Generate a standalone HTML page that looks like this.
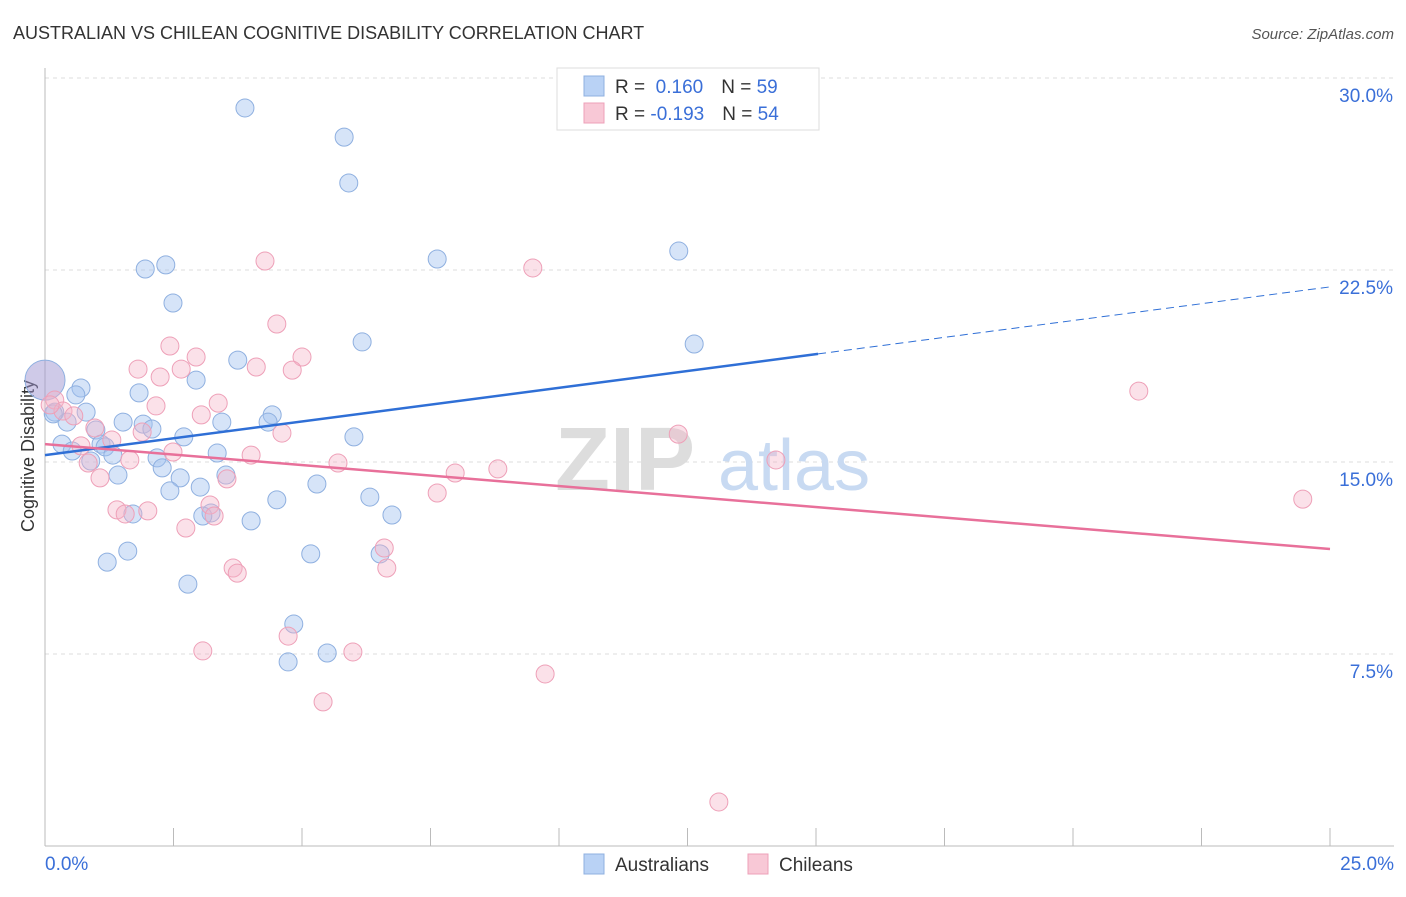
<!DOCTYPE html>
<html><head><meta charset="utf-8"><style>
body{margin:0;background:#fff;font-family:"Liberation Sans",sans-serif;}
svg text{font-family:"Liberation Sans",sans-serif;}
</style></head><body>
<svg id="chart" width="1406" height="892" xmlns="http://www.w3.org/2000/svg">
<text x="13" y="39" font-size="18" fill="#333">AUSTRALIAN VS CHILEAN COGNITIVE DISABILITY CORRELATION CHART</text>
<text x="1394" y="39" font-size="15" fill="#555" font-style="italic" text-anchor="end">Source: ZipAtlas.com</text>
<g id="grid"></g>
<g><text x="555" y="490" font-size="90" font-family="Liberation Serif" fill="#ddd" font-weight="bold">ZIP</text><text x="718" y="490" font-size="72" fill="#c8daf2">atlas</text></g>
<line x1="45" y1="68" x2="45" y2="846" stroke="#bbb"/>
<line x1="45" y1="846" x2="1394" y2="846" stroke="#bbb"/>
<g id="xticks"></g>
<g id="yticks"></g>
<text x="45" y="870" font-size="19" fill="#3a6fd8">0.0%</text>
<text x="1394" y="870" font-size="19" fill="#3a6fd8" text-anchor="end">25.0%</text>
<text transform="translate(34,456) rotate(-90)" font-size="18" fill="#333" text-anchor="middle">Cognitive Disability</text>
<g id="pts"></g>
<g id="lines"></g>
<g>
<rect x="557" y="68" width="262" height="62" fill="#fff" stroke="#ddd"/>
<rect x="584" y="76" width="20" height="20" fill="#b9d2f5" stroke="#8fb0e0"/>
<rect x="584" y="103" width="20" height="20" fill="#f8c8d6" stroke="#eea0b8"/>
<text x="615" y="93" font-size="19" fill="#333">R = <tspan fill="#3a6fd8">&#160;0.160</tspan><tspan dx="18">N = </tspan><tspan fill="#3a6fd8">59</tspan></text>
<text x="615" y="120" font-size="19" fill="#333">R = <tspan fill="#3a6fd8">-0.193</tspan><tspan dx="18">N = </tspan><tspan fill="#3a6fd8">54</tspan></text>
</g>
<g>
<rect x="584" y="854" width="20" height="20" fill="#b9d2f5" stroke="#8fb0e0"/>
<text x="615" y="871" font-size="19" fill="#333">Australians</text>
<rect x="748" y="854" width="20" height="20" fill="#f8c8d6" stroke="#eea0b8"/>
<text x="779" y="871" font-size="19" fill="#333">Chileans</text>
</g>
</svg>
<script>
const yTicks=[7.5,15,22.5,30];
const xTickVals=[0,2.5,5,7.5,10,12.5,15,17.5,20,22.5,25];
const blueX=[3.89,5.82,5.91,7.63,12.33,1.95,2.35,2.49,6.17,12.63,3.75,2.94,0.70,0.60,1.83,0.19,0.80,0.43,1.52,1.91,2.08,4.42,4.34,3.44,0.99,2.70,6.01,0.33,1.09,0.53,1.17,1.32,2.18,3.35,0.89,2.28,2.63,1.42,3.52,5.29,2.43,3.02,6.32,4.51,3.23,3.07,1.71,4.01,6.75,1.61,5.17,6.52,1.21,2.78,4.84,5.49,4.73,0.16,0];
const blueY=[28.83,27.69,25.90,22.93,23.24,22.54,22.70,21.21,19.69,19.61,18.98,18.20,17.89,17.62,17.70,16.95,16.95,16.56,16.56,16.48,16.29,16.84,16.56,16.56,16.25,15.98,15.98,15.70,15.70,15.43,15.59,15.27,15.16,15.35,15.04,14.77,14.38,14.49,14.49,14.14,13.87,14.02,13.63,13.52,13.01,12.89,12.97,12.70,12.93,11.52,11.41,11.41,11.09,10.23,8.67,7.54,7.19,16.88,18.2];
const pinkX=[4.28,9.49,4.51,2.43,2.94,5.00,1.81,2.65,2.24,4.81,4.11,21.28,3.37,2.16,0.19,0.35,0.56,3.04,0.97,1.30,1.89,4.61,12.32,0.70,2.49,4.01,1.65,0.84,5.70,7.98,8.81,14.22,1.07,3.54,7.63,24.47,1.40,1.56,2.00,3.21,2.74,6.60,3.66,3.74,6.65,4.73,3.07,5.99,9.73,5.41,13.11,3.29,0.10];
const pinkY=[22.85,22.58,20.39,19.53,19.10,19.10,18.63,18.63,18.32,18.59,18.71,17.77,17.30,17.19,17.42,16.99,16.80,16.84,16.33,15.86,16.17,16.13,16.09,15.63,15.39,15.27,15.08,14.96,14.96,14.57,14.73,15.08,14.38,14.34,13.79,13.55,13.13,12.97,13.09,13.32,12.42,11.64,10.86,10.66,10.86,8.20,7.62,7.58,6.72,5.63,1.72,12.89,17.23];
const blueTrend=[15.27,21.84];
const pinkTrend=[15.70,11.60];
const X=v=>45+v/25*1285, Y=v=>846-v/30*768;
const NS="http://www.w3.org/2000/svg";
function mk(t,a,p){const e=document.createElementNS(NS,t);for(const k in a)e.setAttribute(k,a[k]);p.appendChild(e);return e;}
const grid=document.getElementById('grid'),yt=document.getElementById('yticks'),xt=document.getElementById('xticks');
yTicks.forEach(v=>{
 const l=mk('line',{x1:45,x2:1394,y1:Y(v),y2:Y(v),stroke:'#ddd','stroke-dasharray':'4,4'},grid);
 
 
 const t=mk('text',{x:1393,y:Y(v)+24,'font-size':19,fill:'#3a6fd8','text-anchor':'end'},yt);
 t.textContent=v.toFixed(1)+'%';
 
 
});
xTickVals.forEach(v=>{
 const l=mk('line',{x1:X(v),x2:X(v),y1:828,y2:846,stroke:'#bbb'},xt);
 
 
});
const pts=document.getElementById('pts');
blueX.forEach((x,i)=>{
 const big=(i===blueX.length-1);
 const c=mk('circle',{cx:X(x),cy:Y(blueY[i]),r:big?20:9,fill:big?'rgba(160,150,210,0.5)':'rgba(164,196,240,0.45)',stroke:'#8fb0e0','stroke-width':1},pts);
 
 
});
pinkX.forEach((x,i)=>{
 const c=mk('circle',{cx:X(x),cy:Y(pinkY[i]),r:9,fill:'rgba(245,180,200,0.4)',stroke:'#eea0b8','stroke-width':1},pts);
 
 
});
const lines=document.getElementById('lines');
const bAt=x=>blueTrend[0]+(blueTrend[1]-blueTrend[0])*x/25;
const b1=mk('line',{x1:X(0),y1:Y(bAt(0)),x2:X(15.04),y2:Y(bAt(15.04)),stroke:'#2f6fd6','stroke-width':2.5},lines);


const b2=mk('line',{x1:X(15.04),y1:Y(bAt(15.04)),x2:X(25),y2:Y(bAt(25)),stroke:'#2f6fd6','stroke-width':1,'stroke-dasharray':'8,5'},lines);


const p1=mk('line',{x1:X(0),y1:Y(pinkTrend[0]),x2:X(25),y2:Y(pinkTrend[1]),stroke:'#e8709a','stroke-width':2.5},lines);


</script>
</body></html>
